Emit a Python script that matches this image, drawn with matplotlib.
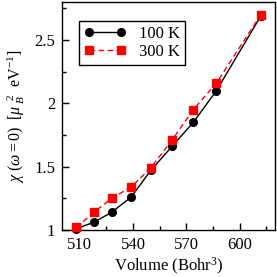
import numpy as np
import matplotlib
matplotlib.use('Agg')
import matplotlib.pyplot as plt
from matplotlib.ticker import MultipleLocator

plt.rcParams['font.family'] = 'Liberation Serif'
plt.rcParams['mathtext.fontset'] = 'custom'
plt.rcParams['mathtext.rm'] = 'Liberation Serif'
plt.rcParams['mathtext.it'] = 'Liberation Serif:italic'

# volumes (Bohr^3) and chi values
volume = [508, 518, 528, 539, 550, 562, 574, 587, 612]
chi_100K = [1.01, 1.06, 1.14, 1.26, 1.47, 1.66, 1.85, 2.10, 2.69]
chi_300K = [1.02, 1.14, 1.25, 1.34, 1.49, 1.71, 1.95, 2.16, 2.70]

fig = plt.figure(figsize=(2.77, 2.77), dpi=100)
ax = fig.add_axes([0.224, 0.170, 0.769, 0.823])

ax.plot(volume, chi_100K, color='black', lw=1.0, marker='o', ms=5.5,
        label='100 K', clip_on=False, zorder=3)
ax.plot(volume, chi_300K, color='red', lw=1.0, ls=(0, (4, 2.5)), marker='s', ms=6,
        label='300 K', clip_on=False, zorder=4)

ax.set_xlim(500, 620)
ax.set_ylim(1, 2.8)
ax.xaxis.set_minor_locator(MultipleLocator(15))
ax.yaxis.set_minor_locator(MultipleLocator(0.25))
ax.set_xticks([510, 540, 570, 600])
ax.set_yticks([1, 1.5, 2, 2.5])
ax.set_yticklabels(['1', '1.5', '2', '2.5'])
ax.tick_params(which='major', direction='in', length=5, width=1, labelsize=12, pad=5)
ax.tick_params(which='minor', direction='in', length=3, width=1)
for s in ax.spines.values():
    s.set_linewidth(1)

ax.set_xlabel(r'Volume (Bohr$^3$)', fontsize=12, labelpad=2)
ax.set_ylabel(r'$\chi\ (\omega = 0)\ \ [\mu_{\ B}^{\ \ 2}\ \ \mathrm{eV}^{-1}]$', fontsize=11.5, labelpad=5)

leg = ax.legend(loc='upper left', bbox_to_anchor=(0.08, 0.917), borderaxespad=0,
                fontsize=12, fancybox=False, edgecolor='black', framealpha=1,
                handlelength=2.5, handletextpad=0.8, numpoints=2,
                borderpad=0.3, labelspacing=0.1)
leg.get_frame().set_linewidth(1)

plt.savefig('out.png', dpi=100)
